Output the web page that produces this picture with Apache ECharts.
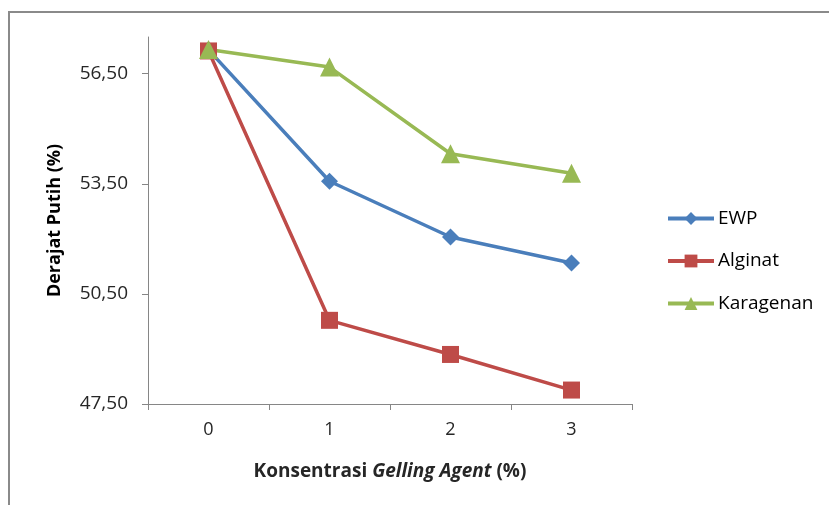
<!DOCTYPE html>
<html>
<head>
<meta charset="utf-8">
<script src="https://cdn.jsdelivr.net/npm/echarts@6/dist/echarts.min.js"></script>
<style>
html,body{margin:0;padding:0;background:#fff;}
#chart{position:absolute;left:0;top:0;width:829px;height:505px;}
#frame{position:absolute;left:8px;top:11px;width:900px;height:600px;border-left:2px solid #8a8a8a;border-top:2px solid #8a8a8a;pointer-events:none;}
</style>
</head>
<body>
<div id="chart"></div>
<div id="frame"></div>
<script>
const categories = ['0', '1', '2', '3'];
const ewp = [57.15, 53.57, 52.05, 51.34];
const alginat = [57.12, 49.78, 48.85, 47.88];
const karagenan = [57.16, 56.68, 54.32, 53.79];
const yTicks = [47.5, 50.5, 53.5, 56.5];

const FONT = 'Open Sans';
const chart = echarts.init(document.getElementById('chart'), null, {renderer: 'canvas'});
chart.setOption({
  animation: false,
  backgroundColor: '#ffffff',
  textStyle: {fontFamily: FONT},
  grid: {left: 148, right: 197, top: 37, bottom: 101, containLabel: false},
  legend: {
    orient: 'vertical',
    left: 661,
    top: 204,
    itemWidth: 46,
    itemHeight: 16,
    itemGap: 23.5,
    lineStyle: {width: 4},
    textStyle: {fontFamily: FONT, fontSize: 19, color: '#000', padding: [0, 0, 0, -1]},
    data: ['EWP', 'Alginat', 'Karagenan']
  },
  xAxis: {
    type: 'category',
    data: categories,
    boundaryGap: true,
    axisLine: {lineStyle: {color: '#868686', width: 1}},
    axisTick: {show: true, length: 6, lineStyle: {color: '#868686'}},
    axisLabel: {fontFamily: FONT, fontSize: 18, color: '#262626', margin: 17},
    splitLine: {show: false},
    name: '{b|Konsentrasi }{i|Gelling Agent}{b| (%)}',
    nameLocation: 'middle',
    nameGap: 58,
    nameTextStyle: {
      rich: {
        b: {fontFamily: FONT, fontSize: 19, fontWeight: 'bold', color: '#262626'},
        i: {fontFamily: FONT, fontSize: 19, fontWeight: 'bold', fontStyle: 'italic', color: '#262626'}
      }
    }
  },
  yAxis: {
    type: 'value',
    min: 47.5,
    max: 57.5,
    interval: 3,
    axisLine: {show: true, lineStyle: {color: '#868686', width: 1}},
    axisTick: {show: true, length: 6, lineStyle: {color: '#868686'}, customValues: yTicks},
    axisLabel: {
      fontFamily: FONT, fontSize: 19, color: '#262626', margin: 20,
      customValues: yTicks,
      formatter: v => v.toFixed(2).replace('.', ',')
    },
    splitLine: {show: false},
    name: 'Derajat Putih (%)',
    nameLocation: 'middle',
    nameGap: 84,
    nameTextStyle: {fontFamily: FONT, fontSize: 18, fontWeight: 'bold', color: '#000'}
  },
  series: [
    {
      name: 'EWP', type: 'line', data: ewp,
      symbol: 'diamond', symbolSize: 17,
      lineStyle: {color: '#4a7ebb', width: 3.5},
      itemStyle: {color: '#4a7ebb'}
    },
    {
      name: 'Alginat', type: 'line', data: alginat,
      symbol: 'rect', symbolSize: 17,
      lineStyle: {color: '#be4b48', width: 3.5},
      itemStyle: {color: '#be4b48'}
    },
    {
      name: 'Karagenan', type: 'line', data: karagenan,
      symbol: 'triangle', symbolSize: 19,
      lineStyle: {color: '#98b954', width: 3.5},
      itemStyle: {color: '#98b954'}
    }
  ]
});
</script>
</body>
</html>
